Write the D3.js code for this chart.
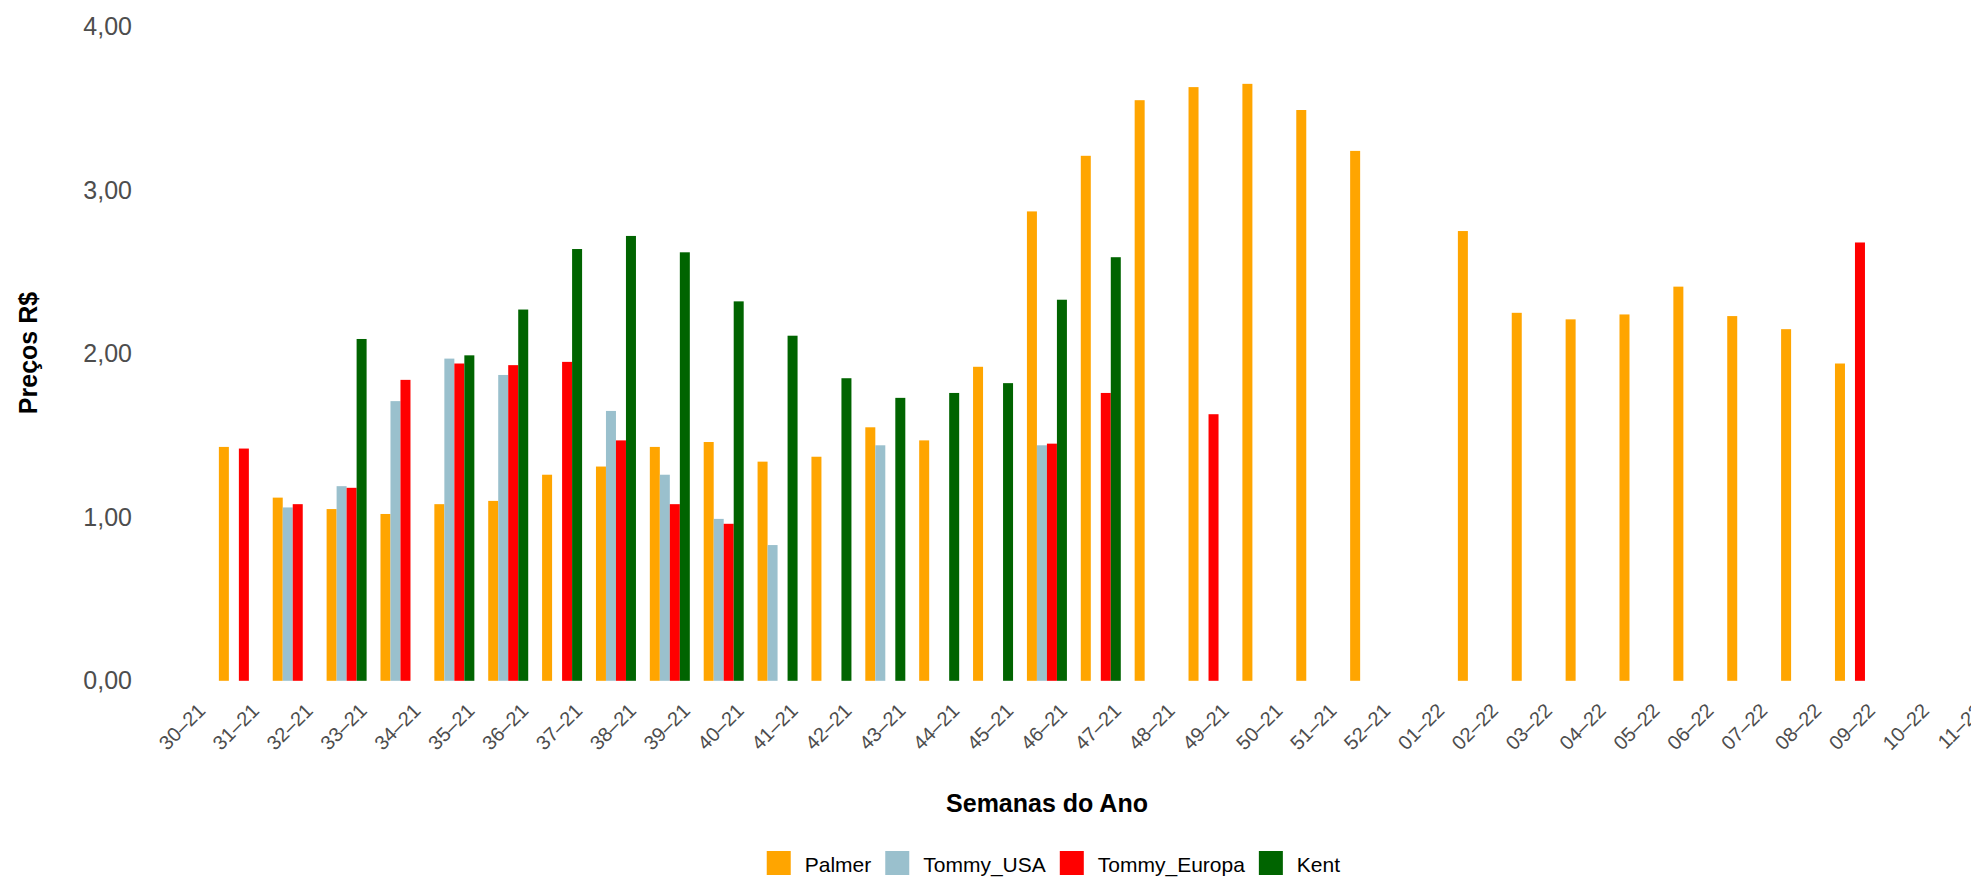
<!DOCTYPE html>
<html lang="pt">
<head>
<meta charset="UTF-8">
<title>Preços por semana</title>
<script src="https://cdn.jsdelivr.net/npm/d3@7"></script>
<style>
  body { margin: 0; background: #fff; }
  text { font-family: "Liberation Sans", Arial, sans-serif; }
</style>
</head>
<body>
<div id="app"></div>
<script>
var width = 1971;
var height = 877;

var semanas = ["30–21", "31–21", "32–21", "33–21", "34–21", "35–21", "36–21", "37–21", "38–21",
  "39–21", "40–21", "41–21", "42–21", "43–21", "44–21", "45–21", "46–21", "47–21", "48–21",
  "49–21", "50–21", "51–21", "52–21", "01–22", "02–22", "03–22", "04–22", "05–22", "06–22",
  "07–22", "08–22", "09–22", "10–22", "11–22"];

var palmer = [null, 1.43, 1.12, 1.05, 1.02, 1.08, 1.10, 1.26, 1.31, 1.43, 1.46, 1.34, 1.37, 1.55,
  1.47, 1.92, 2.87, 3.21, 3.55, 3.63, 3.65, 3.49, 3.24, null, 2.75, 2.25, 2.21, 2.24, 2.41,
  2.23, 2.15, 1.94, null, null];
var tommyUSA = [null, null, 1.06, 1.19, 1.71, 1.97, 1.87, null, 1.65, 1.26, 0.99, 0.83, null, 1.44,
  null, null, 1.44, null, null, null, null, null, null, null, null, null, null, null, null,
  null, null, null, null, null];
var tommyEuropa = [null, 1.42, 1.08, 1.18, 1.84, 1.94, 1.93, 1.95, 1.47, 1.08, 0.96, null, null, null,
  null, null, 1.45, 1.76, null, 1.63, null, null, null, null, null, null, null, null, null,
  null, null, 2.68, null, null];
var kent = [null, null, null, 2.09, null, 1.99, 2.27, 2.64, 2.72, 2.62, 2.32, 2.11, 1.85, 1.73,
  1.76, 1.82, 2.33, 2.59, null, null, null, null, null, null, null, null, null, null, null,
  null, null, null, null, null];

var series = ["Palmer", "Tommy_USA", "Tommy_Europa", "Kent"];
var valores = [palmer, tommyUSA, tommyEuropa, kent];
var cores = ["#FFA500", "#9AC0CD", "#FF0000", "#006400"];
var yTicks = [0, 1, 2, 3, 4];

var svg = d3.select("#app")
  .append("svg")
  .attr("width", width)
  .attr("height", height);

// eixos
var x = d3.scalePoint()
  .domain(semanas)
  .range([185, 185 + 53.87 * (semanas.length - 1)]);

var xSub = d3.scaleBand()
  .domain(series)
  .range([-20, 20]);

var y = d3.scaleLinear()
  .domain([0, 4])
  .range([680.8, 26.6]);

var color = d3.scaleOrdinal().domain(series).range(cores);

var br = d3.formatLocale({ decimal: ",", thousands: ".", grouping: [3], currency: ["R$", ""] });
var fmt = br.format(".2f");

// dados longos
var linhas = [];
semanas.forEach(function (s, i) {
  series.forEach(function (nome, j) {
    var v = valores[j][i];
    if (v !== null) linhas.push({ semana: s, serie: nome, valor: v });
  });
});

svg.append("g")
  .selectAll("rect")
  .data(linhas)
  .enter()
  .append("rect")
  .attr("x", function (d) { return x(d.semana) + xSub(d.serie); })
  .attr("y", function (d) { return y(d.valor); })
  .attr("width", xSub.bandwidth())
  .attr("height", function (d) { return y(0) - y(d.valor); })
  .attr("fill", function (d) { return color(d.serie); });

// eixo y
var gy = svg.append("g")
  .attr("transform", "translate(140,0)")
  .call(d3.axisLeft(y).tickValues(yTicks).tickFormat(fmt).tickSize(0).tickPadding(8));
gy.select(".domain").remove();
gy.selectAll("text")
  .style("font-size", "25px")
  .style("font-family", "'Liberation Sans', Arial, sans-serif")
  .attr("fill", "#4d4d4d");

// eixo x
var gx = svg.append("g")
  .attr("transform", "translate(0," + y(0) + ")")
  .call(d3.axisBottom(x).tickSize(0));
gx.select(".domain").remove();
gx.selectAll("text")
  .attr("x", 0)
  .attr("y", 0)
  .attr("dy", null)
  .attr("transform", "translate(21,31) rotate(-45)")
  .style("text-anchor", "end")
  .style("font-size", "20px")
  .style("font-family", "'Liberation Sans', Arial, sans-serif")
  .attr("fill", "#4d4d4d");

// titulos
svg.append("text")
  .attr("x", 1047)
  .attr("y", 812)
  .attr("text-anchor", "middle")
  .style("font-size", "25px")
  .style("font-weight", "bold")
  .text("Semanas do Ano");

svg.append("text")
  .attr("transform", "translate(37,353) rotate(-90)")
  .attr("text-anchor", "middle")
  .style("font-size", "25px")
  .style("font-weight", "bold")
  .text("Preços R$");

// legenda
var legend = svg.append("g");
var item = legend.selectAll("g")
  .data(series)
  .enter()
  .append("g");
item.append("rect")
  .attr("width", 24)
  .attr("height", 24)
  .attr("y", 851)
  .attr("fill", function (d) { return color(d); });
item.append("text")
  .attr("x", 38)
  .attr("y", 871.5)
  .style("font-size", "21px")
  .text(function (d) { return d; });

var gap = 14;
var pos = 0;
var offsets = [];
item.each(function () {
  offsets.push(pos);
  var w = d3.select(this).select("text").node().getComputedTextLength();
  pos += 38 + w + gap;
});
var total = pos - gap;
var start = 1053.4 - total / 2;
item.attr("transform", function (d, i) { return "translate(" + (start + offsets[i]) + ",0)"; });
</script>
</body>
</html>
